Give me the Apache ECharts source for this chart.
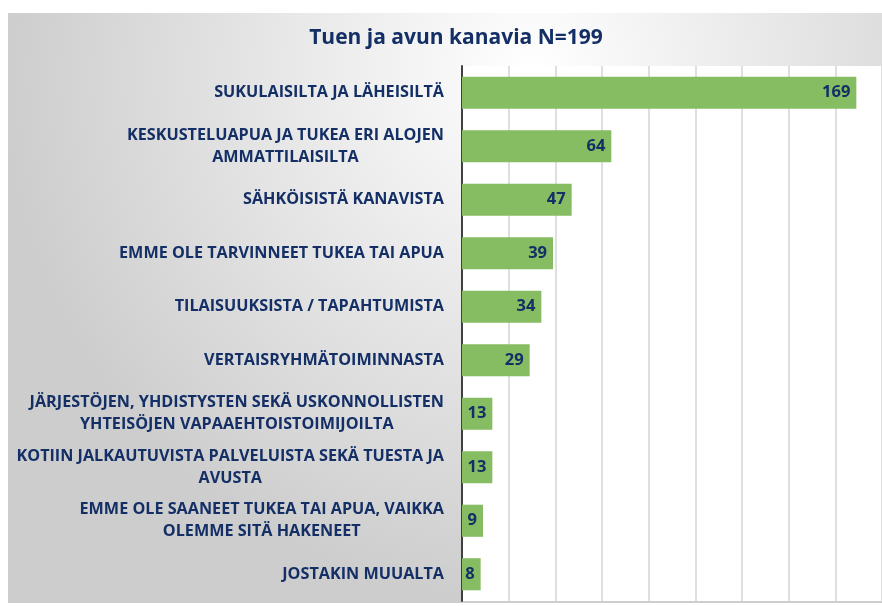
<!DOCTYPE html>
<html>
<head>
<meta charset="utf-8">
<script src="https://cdn.jsdelivr.net/npm/echarts@6/dist/echarts.min.js"></script>
<style>
  html, body { margin: 0; padding: 0; background: #fff; }
  #chart { width: 882px; height: 606px; }
</style>
</head>
<body>
<div id="chart"></div>
<script>
var chart = echarts.init(document.getElementById('chart'));

// kanavat, ylhäältä alas
var categories = [
  'SUKULAISILTA JA LÄHEISILTÄ',
  'KESKUSTELUAPUA JA TUKEA ERI ALOJEN\nAMMATTILAISILTA',
  'SÄHKÖISISTÄ KANAVISTA',
  'EMME OLE TARVINNEET TUKEA TAI APUA',
  'TILAISUUKSISTA / TAPAHTUMISTA',
  'VERTAISRYHMÄTOIMINNASTA',
  'JÄRJESTÖJEN, YHDISTYSTEN SEKÄ USKONNOLLISTEN\nYHTEISÖJEN VAPAAEHTOISTOIMIJOILTA',
  'KOTIIN JALKAUTUVISTA PALVELUISTA SEKÄ TUESTA JA\nAVUSTA',
  'EMME OLE SAANEET TUKEA TAI APUA, VAIKKA\nOLEMME SITÄ HAKENEET',
  'JOSTAKIN MUUALTA'
];
var counts = [169, 64, 47, 39, 34, 29, 13, 13, 9, 8];

var navy = '#132f66';

option = {
  backgroundColor: '#ffffff',
  graphic: [{
    type: 'rect',
    left: 8,
    top: 13,
    z: -10,
    shape: { width: 874, height: 590 },
    style: {
      fill: {
        type: 'radial', x: 0.6, y: 0.1, r: 0.9,
        colorStops: [
          { offset: 0, color: '#ffffff' },
          { offset: 1, color: '#cdcdcd' }
        ]
      }
    }
  }],
  title: {
    text: 'Tuen ja avun kanavia N=199',
    left: 451,
    top: 23,
    textAlign: 'center',
    textStyle: {
      color: navy,
      fontFamily: 'Open Sans',
      fontWeight: 'bold',
      fontSize: 21
    }
  },
  grid: {
    left: 462,
    right: -2,
    top: 66,
    bottom: 5,
    show: true,
    backgroundColor: '#ffffff',
    borderWidth: 0
  },
  xAxis: {
    type: 'value',
    min: 0,
    max: 180,
    interval: 20,
    axisLabel: { show: false },
    axisLine: { show: false },
    axisTick: { show: false },
    splitLine: { lineStyle: { color: '#d4d4d4', width: 1.5 } }
  },
  yAxis: {
    type: 'category',
    inverse: true,
    data: categories,
    axisTick: { show: false },
    axisLine: { lineStyle: { color: '#404040', width: 2 } },
    axisLabel: {
      margin: 18,
      formatter: function (v) { return '{c|' + v.split('\n').join('}\n{c|') + '}'; },
      rich: {
        c: {
          align: 'center',
          color: navy,
          fontFamily: 'Open Sans',
          fontWeight: 'bold',
          fontSize: 16.2,
          lineHeight: 22
        }
      }
    }
  },
  series: [{
    type: 'bar',
    data: counts,
    barWidth: '60%',
    itemStyle: { color: '#86bc62' },
    label: {
      show: true,
      position: 'insideRight',
      distance: 6,
      color: navy,
      fontFamily: 'Open Sans',
      fontWeight: 'bold',
      fontSize: 16.5
    }
  }]
};

chart.setOption(option);
</script>
</body>
</html>
